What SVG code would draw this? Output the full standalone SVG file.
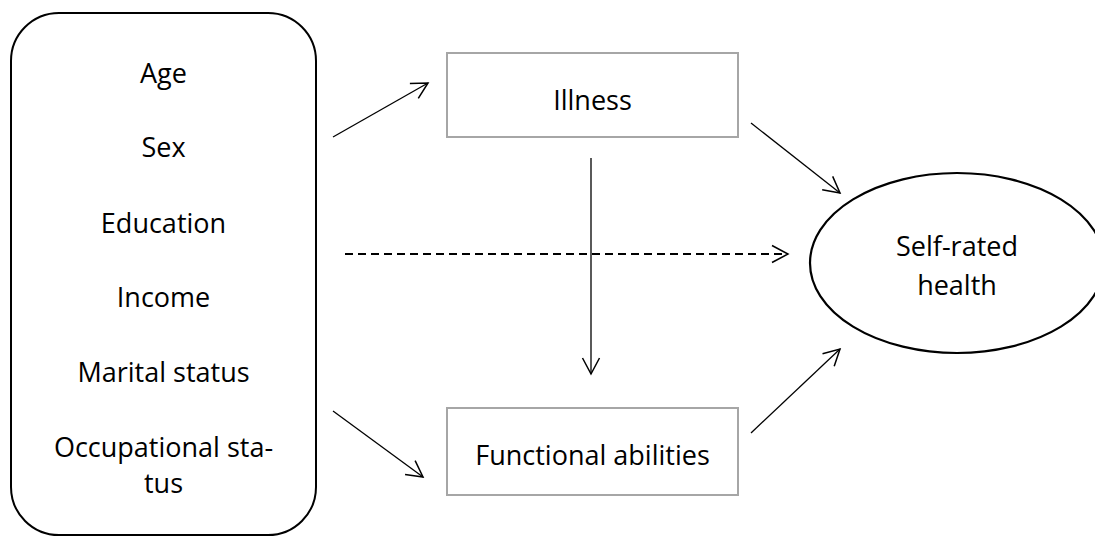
<svg xmlns="http://www.w3.org/2000/svg" width="1095" height="536" viewBox="0 0 1095 536">
<style>
text{font-family:"Open Sans","Noto Sans","Liberation Sans",sans-serif;font-size:27px;fill:#000;text-anchor:middle}
.box{fill:#fff;stroke:#A6A6A6;stroke-width:2}
.edge{fill:none;stroke:#000;stroke-width:1.3;marker-end:url(#arr)}
.dash{fill:none;stroke:#000;stroke-width:1.8;stroke-dasharray:8 5;marker-end:url(#arr)}
</style>
<defs>
<marker id="arr" markerUnits="userSpaceOnUse" viewBox="-18 -10 20 20" refX="0" refY="0" markerWidth="20" markerHeight="20" orient="auto" overflow="visible">
<path d="M-16,-8.5 L0,0 L-16,8.5" fill="none" stroke="#000" stroke-width="1.5"/>
</marker>
</defs>
<rect width="1095" height="536" fill="#fff"/>
<g id="node-demographics">
<rect x="11" y="13" width="305" height="522" rx="48" ry="48" fill="#fff" stroke="#000" stroke-width="2"/>
<text x="163.5" y="83">Age</text>
<text x="163.5" y="157">Sex</text>
<text x="163.5" y="233">Education</text>
<text x="163.5" y="307">Income</text>
<text x="163.5" y="382">Marital status</text>
<text x="163.5" y="457">Occupational sta-</text>
<text x="163.5" y="493">tus</text>
</g>
<g id="node-illness">
<rect class="box" x="447" y="53" width="291" height="84"/>
<text x="592.5" y="110">Illness</text>
</g>
<g id="node-functional">
<rect class="box" x="447" y="408" width="291" height="87"/>
<text x="592.5" y="465">Functional abilities</text>
</g>
<g id="node-srh">
<ellipse cx="957" cy="263" rx="147" ry="90" fill="#fff" stroke="#000" stroke-width="2.2"/>
<text x="957" y="256">Self-rated</text>
<text x="957" y="295">health</text>
</g>
<g id="connectors">
<line class="edge" x1="333" y1="137" x2="428" y2="83"/>
<line class="edge" x1="751" y1="123" x2="840" y2="193"/>
<line class="edge" x1="591" y1="158" x2="591" y2="374"/>
<line class="dash" x1="345" y1="254" x2="788" y2="254"/>
<line class="edge" x1="333" y1="411" x2="423" y2="477"/>
<line class="edge" x1="751" y1="433" x2="840" y2="349"/>
</g>
</svg>
